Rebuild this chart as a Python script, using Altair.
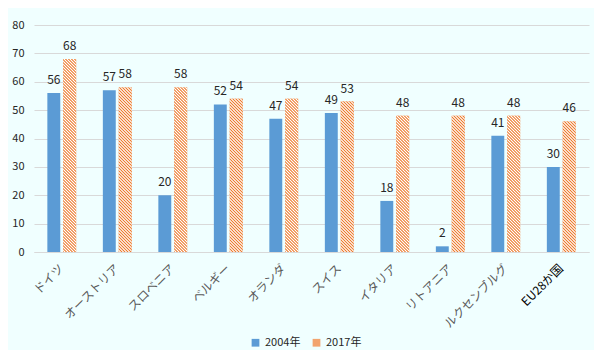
import altair as alt
import pandas as pd

countries = ["ドイツ", "オーストリア", "スロベニア", "ベルギー", "オランダ",
             "スイス", "イタリア", "リトアニア", "ルクセンブルグ", "EU28か国"]
years = ["2004年", "2017年"]
v2004 = [56, 57, 20, 52, 47, 49, 18, 2, 41, 30]
v2017 = [68, 58, 58, 54, 54, 53, 48, 48, 48, 46]

rows = []
for c, a, b in zip(countries, v2004, v2017):
    rows.append({"country": c, "year": years[0], "value": a})
    rows.append({"country": c, "year": years[1], "value": b})
df = pd.DataFrame(rows)

W, H = 555, 227
YMAX = 80
BLUE = "#5B9BD5"
ORANGE = "#ED7D31"
FONT = "Noto Sans CJK JP"

# layout of bars (style only)
STEP = W / len(countries)
P_IN = 0.1875
P_OUT = 0.84
sub_step = STEP / (2 - P_IN + 2 * P_OUT)
BAR_W = sub_step * (1 - P_IN)


def hatch(value, period=3.0):
    """Diagonal stripes (\\\\) as a linear gradient in bounding-box units,
    with an exact pixel period and soft edges so every bar looks alike."""
    w = BAR_W
    h = max(value * H / YMAX, 0.5)
    span = w + h
    k = span / (w * w + h * h)
    stops = []
    a = 0.0
    while a < span:
        p1 = min(a + period * 0.15, span)
        p2 = min(a + period * 0.5, span)
        p3 = min(a + period * 0.65, span)
        e = min(a + period, span)
        stops += [
            {"offset": a / span, "color": ORANGE},
            {"offset": p1 / span, "color": ORANGE},
            {"offset": p2 / span, "color": "#FFFFFF"},
            {"offset": p3 / span, "color": "#FFFFFF"},
            {"offset": e / span, "color": ORANGE},
        ]
        a += period
    return alt.Gradient(gradient="linear", x1=0, y1=1, x2=k * w, y2=1 - k * h,
                        stops=[alt.GradientStop(**s) for s in stops])


x_enc = alt.X("country:N", sort=countries, title=None,
              scale=alt.Scale(paddingInner=0, paddingOuter=0),
              axis=alt.Axis(labelAngle=-45, labelAlign="right", labelBaseline="middle",
                            labelFont=FONT, labelFontSize=12,
                            labelColor=alt.condition("datum.value == 'EU28か国'",
                                                     alt.value("#000000"),
                                                     alt.value("#595959")),
                            labelPadding=14, ticks=False, domainColor="#D9D9D9",
                            labelOverlap=False))
xo_enc = alt.XOffset("year:N", sort=years,
                     scale=alt.Scale(domain=years, paddingInner=P_IN, paddingOuter=P_OUT))
y_enc = alt.Y("value:Q", title=None,
              scale=alt.Scale(domain=[0, YMAX], nice=False),
              axis=alt.Axis(values=list(range(0, YMAX + 1, 10)), domain=False, ticks=False,
                            gridColor="#D9D9D9", labelFont=FONT, labelFontSize=11,
                            labelColor="#262626", labelPadding=10))

base = alt.Chart(df)

bars = base.mark_bar().encode(
    x=x_enc, xOffset=xo_enc, y=y_enc,
    color=alt.Color("year:N", sort=years,
                    scale=alt.Scale(domain=years, range=[BLUE, "#F2A46F"]),
                    legend=alt.Legend(title=None, orient="none", direction="horizontal",
                                      legendX=216, legendY=312, symbolType="square",
                                      symbolSize=60, labelFont=FONT, labelFontSize=11,
                                      labelColor="#262626", columnPadding=10,
                                      symbolStrokeWidth=0)),
)

hatch_layers = []
for c, b in zip(countries, v2017):
    hatch_layers.append(
        base.transform_filter(
            (alt.datum.country == c) & (alt.datum.year == years[1])
        ).mark_bar(fill=hatch(b)).encode(x=x_enc, xOffset=xo_enc, y=y_enc)
    )

labels = base.mark_text(baseline="bottom", dy=-6, font=FONT, fontSize=12,
                        color="#262626").encode(
    x=x_enc, xOffset=xo_enc, y=y_enc, text="value:Q")

chart = alt.layer(bars, *hatch_layers, labels).properties(
    width=W, height=H, background="#F0FFFF",
    padding={"left": 3, "top": 11, "right": 5, "bottom": 2},
).configure_view(stroke=None)

chart.save("out.html", embed_options={"renderer": "svg", "actions": False})
